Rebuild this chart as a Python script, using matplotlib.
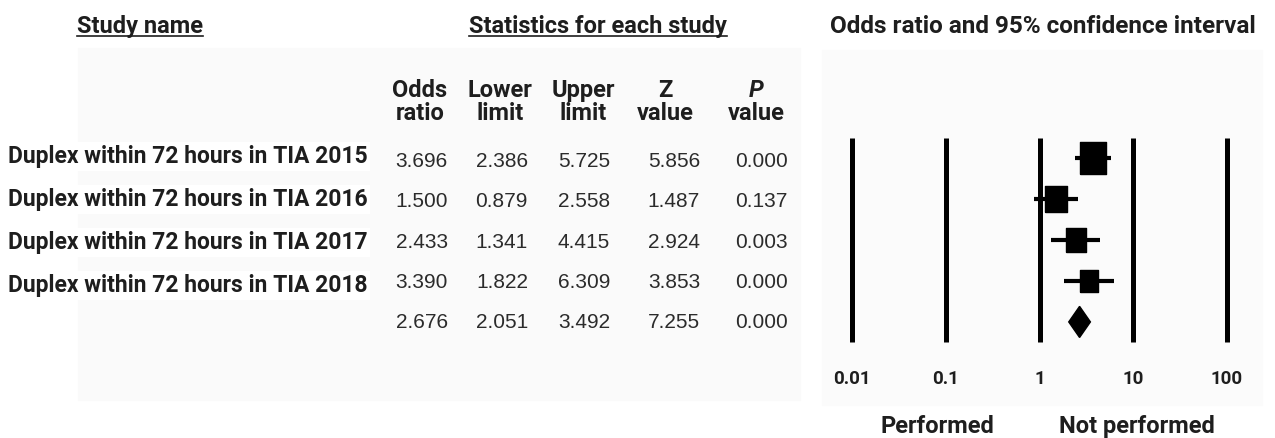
import matplotlib
matplotlib.use("Agg")
import matplotlib.pyplot as plt
from matplotlib.lines import Line2D
from matplotlib.patches import Polygon, Rectangle
from matplotlib.ticker import NullLocator

# ---- data -------------------------------------------------------------
study_names = [
    "Duplex within 72 hours in TIA 2015",
    "Duplex within 72 hours in TIA 2016",
    "Duplex within 72 hours in TIA 2017",
    "Duplex within 72 hours in TIA 2018",
]
odds_ratio = [3.696, 1.500, 2.433, 3.390, 2.676]
lower_limit = [2.386, 0.879, 1.341, 1.822, 2.051]
upper_limit = [5.725, 2.558, 4.415, 6.309, 3.492]
z_value = [5.856, 1.487, 2.924, 3.853, 7.255]
p_value = [0.000, 0.137, 0.003, 0.000, 0.000]

axis_ticks = [0.01, 0.1, 1, 10, 100]
tick_labels = ["0.01", "0.1", "1", "10", "100"]
favours_left = "Performed"
favours_right = "Not performed"

# ---- style ------------------------------------------------------------
W, H = 1275, 438
INK = "#1e1e1e"
NUM_INK = "#2b2b2b"
BOLD_FONT = "Roboto"
NUM_FONT = "Liberation Sans"
square_height_px = [32, 27, 24, 23]   # study weights shown as box size


def fx(px):
    return px / W


def fy(py):
    return 1 - py / H


fig = plt.figure(figsize=(W / 100, H / 100), dpi=100)
fig.patch.set_facecolor("white")

# faint panels behind the table and the plot
fig.add_artist(Rectangle((fx(78), fy(400)), fx(800 - 78), (400 - 48) / H,
                         transform=fig.transFigure, color="#fafafa", zorder=0))
fig.add_artist(Rectangle((fx(822), fy(405)), fx(1262 - 822), (405 - 50) / H,
                         transform=fig.transFigure, color="#fbfbfb", zorder=0))


def btext(x, y, s, size=17, ha="center", **kw):
    return fig.text(fx(x), fy(y), s, ha=ha, va="baseline", fontsize=size,
                    family=BOLD_FONT, weight="bold", color=INK, **kw)


# ---- section titles ---------------------------------------------------
underlined = [btext(140, 33, "Study name"),
              btext(598, 33, "Statistics for each study")]
btext(1043, 33, "Odds ratio and 95% confidence interval", size=17.5)

# ---- column headers ---------------------------------------------------
headers = [("Odds", "ratio", 420), ("Lower", "limit", 500),
           ("Upper", "limit", 583), ("Z", "value", 665)]
for top, bottom, x in headers:
    btext(x, 97, top)
    btext(x, 120, bottom)
btext(756, 97, "P", style="italic")
btext(756, 120, "value")

# ---- study labels -----------------------------------------------------
for i, name in enumerate(study_names):
    btext(8, 163 + 43 * i, name, size=16.5, ha="left",
          bbox=dict(facecolor="white", edgecolor="none", pad=2))

# ---- statistics table -------------------------------------------------
columns = [(odds_ratio, 448), (lower_limit, 528), (upper_limit, 610),
           (z_value, 700), (p_value, 788)]
for values, right in columns:
    for i, v in enumerate(values):
        fig.text(fx(right), fy(167 + 40.3 * i), f"{v:.3f}", ha="right",
                 va="baseline", fontsize=15, family=NUM_FONT, color=NUM_INK)

# ---- forest plot ------------------------------------------------------
ax = fig.add_axes([fx(852), fy(342), fx(1227 - 852), (342 - 138) / H])
ax.set_xscale("log")
ax.set_xlim(axis_ticks[0], axis_ticks[-1])
ax.set_ylim(4.49, -0.49)
ax.patch.set_alpha(0)
for s in ax.spines.values():
    s.set_visible(False)
ax.set_yticks([])
ax.set_xticks(axis_ticks)
ax.set_xticklabels(tick_labels)
ax.xaxis.set_minor_locator(NullLocator())
ax.tick_params(axis="x", length=0, pad=20, labelsize=13.5, labelcolor=INK)
for lab in ax.get_xticklabels():
    lab.set_fontfamily(BOLD_FONT)
    lab.set_fontweight("bold")

for t in axis_ticks:
    ax.axvline(t, color="black", lw=3.6, solid_capstyle="butt", clip_on=False)

box = [(-0.4, -0.5), (0.4, -0.5), (0.4, 0.5), (-0.4, 0.5), (-0.4, -0.5)]
n = len(study_names)
for i in range(n):
    ax.hlines(i, lower_limit[i], upper_limit[i], color="black", lw=3.0,
              zorder=3)
    ax.plot(odds_ratio[i], i, marker=box, markersize=square_height_px[i] * 0.72,
            color="black", zorder=4, clip_on=False)

half_h = 0.38
ax.add_patch(Polygon([(lower_limit[n], n), (odds_ratio[n], n - half_h),
                      (upper_limit[n], n), (odds_ratio[n], n + half_h)],
                     closed=True, color="black", zorder=4, clip_on=False))

btext(937, 433, favours_left)
btext(1137, 433, favours_right)

# ---- underline the section titles ------------------------------------
fig.canvas.draw()
renderer = fig.canvas.get_renderer()
for t in underlined:
    bb = t.get_window_extent(renderer)
    _, base_y = fig.transFigure.transform(t.get_position())
    y = base_y - 2.5
    fig.add_artist(Line2D([bb.x0, bb.x1], [y, y], transform=None,
                          color=INK, lw=1.2))

fig.savefig("out.png", dpi=100, facecolor="white")
